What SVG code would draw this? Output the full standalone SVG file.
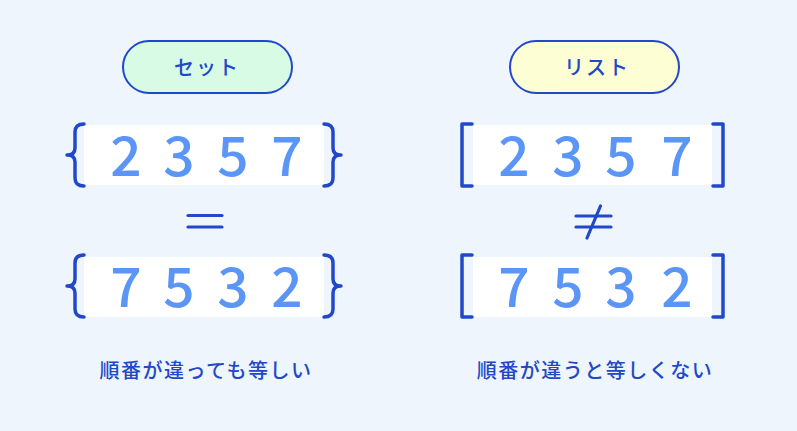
<svg xmlns="http://www.w3.org/2000/svg" width="797" height="431" viewBox="0 0 797 431">
<style>
.pill{stroke:#2148C9;stroke-width:2}
.lbl{font-family:"Noto Sans CJK JP","Noto Sans",sans-serif;font-size:20px;fill:#2148C9;text-anchor:middle;font-weight:500}
.box{fill:#FFFFFF}
.dig{font-family:"Noto Sans CJK JP","Noto Sans",sans-serif;font-size:55px;fill:#5B96F7;text-anchor:middle;font-weight:500}
.br{fill:none;stroke:#2148C9;stroke-width:3.5;stroke-linecap:round;stroke-linejoin:round}
.op{fill:none;stroke:#2148C9;stroke-width:3.2;stroke-linecap:round}
.cap{font-family:"Noto Sans CJK JP","Noto Sans",sans-serif;font-size:20px;fill:#2148C9;text-anchor:middle;letter-spacing:1.5px;font-weight:500}
</style>
<rect width="797" height="431" fill="#EEF5FC"/>
<g id="set">
<g id="set-label">
<rect class="pill" x="123" y="41" width="169" height="52" rx="26" fill="#D8FBE6"/>
<text class="lbl" x="207" y="75" letter-spacing="2">セット</text>
</g>
<g id="set-top">
<rect class="box" x="84" y="125" width="240" height="60"/>
<path class="br" d="M84,124 Q75,124 75,132 V148 Q75,155 67,155 Q75,155 75,162 V178 Q75,186 84,186"/>
<path class="br" d="M324,124 Q333,124 333,132 V148 Q333,155 341,155 Q333,155 333,162 V178 Q333,186 324,186"/>
<text class="dig" x="126" y="176">2</text>
<text class="dig" x="179" y="176">3</text>
<text class="dig" x="233" y="176">5</text>
<text class="dig" x="287" y="176">7</text>
</g>
<g id="set-eq">
<line class="op" x1="188" y1="215.5" x2="222" y2="215.5"/>
<line class="op" x1="188" y1="227" x2="222" y2="227"/>
</g>
<g id="set-bottom">
<rect class="box" x="84" y="257" width="240" height="60"/>
<path class="br" d="M84,255 Q75,255 75,263 V279 Q75,286 67,286 Q75,286 75,293 V309 Q75,317 84,317"/>
<path class="br" d="M324,255 Q333,255 333,263 V279 Q333,286 341,286 Q333,286 333,293 V309 Q333,317 324,317"/>
<text class="dig" x="126" y="307">7</text>
<text class="dig" x="179" y="307">5</text>
<text class="dig" x="233" y="307">3</text>
<text class="dig" x="287" y="307">2</text>
</g>
<g id="set-caption">
<text class="cap" x="206" y="378">順番が違っても等しい</text>
</g>
</g>
<g id="list">
<g id="list-label">
<rect class="pill" x="510" y="41" width="169" height="52" rx="26" fill="#FEFED5"/>
<text class="lbl" x="597" y="75" letter-spacing="2">リスト</text>
</g>
<g id="list-top">
<rect class="box" x="473" y="125" width="239" height="60"/>
<path class="br" d="M472,124 H462 V186 H472"/>
<path class="br" d="M713,124 H723 V186 H713"/>
<text class="dig" x="514" y="176">2</text>
<text class="dig" x="568" y="176">3</text>
<text class="dig" x="621" y="176">5</text>
<text class="dig" x="677" y="176">7</text>
</g>
<g id="list-neq">
<line class="op" x1="576" y1="216" x2="611" y2="216"/>
<line class="op" x1="576" y1="227" x2="611" y2="227"/>
<line class="op" x1="600.5" y1="206" x2="587" y2="238"/>
</g>
<g id="list-bottom">
<rect class="box" x="473" y="257" width="239" height="60"/>
<path class="br" d="M472,255 H462 V317 H472"/>
<path class="br" d="M713,255 H723 V317 H713"/>
<text class="dig" x="514" y="307">7</text>
<text class="dig" x="568" y="307">5</text>
<text class="dig" x="621" y="307">3</text>
<text class="dig" x="677" y="307">2</text>
</g>
<g id="list-caption">
<text class="cap" x="595" y="378">順番が違うと等しくない</text>
</g>
</g>
</svg>
